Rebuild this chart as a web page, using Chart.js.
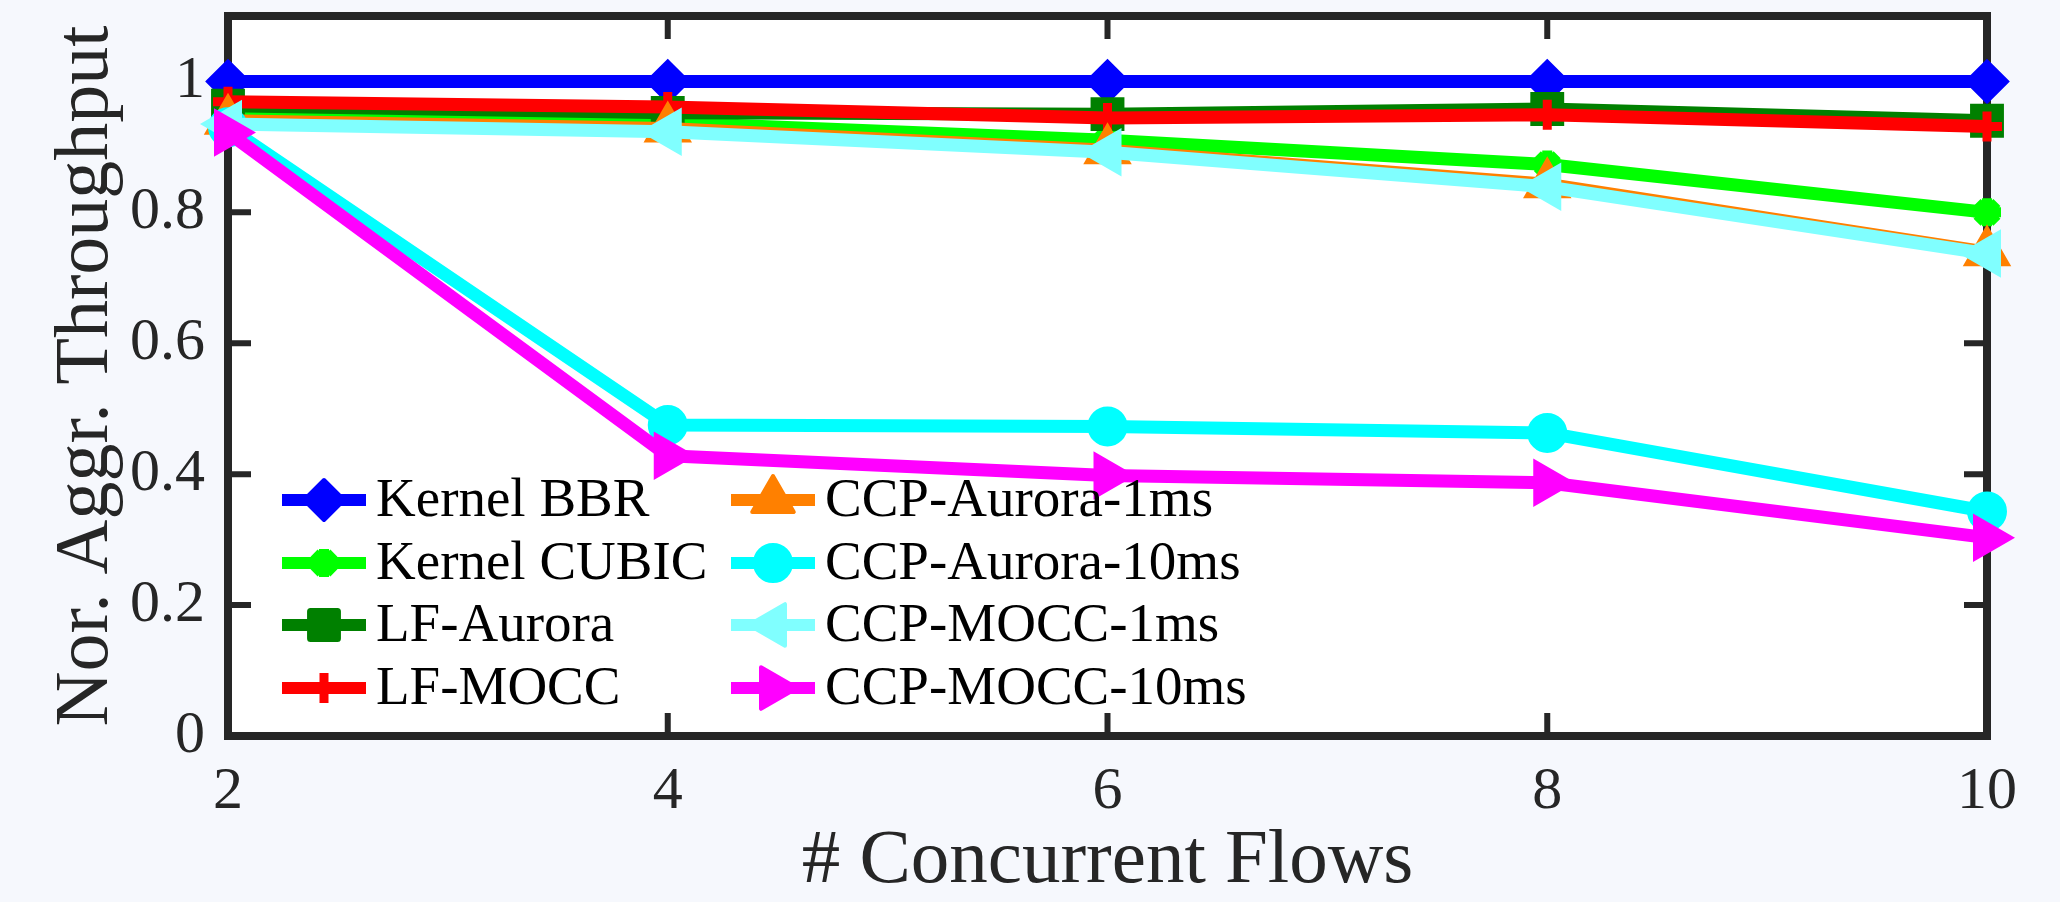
<!DOCTYPE html>
<html>
<head>
<meta charset="utf-8">
<script src="https://cdn.jsdelivr.net/npm/chart.js@4.4.1/dist/chart.umd.min.js"></script>
<style>
  body { margin: 0; background: #f6f8fd; }
  canvas { display: block; }
</style>
</head>
<body>
<canvas id="flowChart" width="2060" height="902"></canvas>
<script>
// x: number of concurrent flows
const flows = [2, 4, 6, 8, 10];

// normalized aggregate throughput
const kernelBBR    = [1.000, 1.000, 1.000, 1.000, 1.000];
const kernelCUBIC  = [0.952, 0.937, 0.910, 0.873, 0.800];
const lfAurora     = [0.963, 0.952, 0.950, 0.958, 0.940];
const lfMOCC       = [0.969, 0.961, 0.944, 0.949, 0.931];
const ccpAurora1   = [0.940, 0.928, 0.895, 0.843, 0.739];
const ccpAurora10  = [0.930, 0.475, 0.473, 0.463, 0.343];
const ccpMOCC1     = [0.935, 0.923, 0.892, 0.839, 0.737];
const ccpMOCC10    = [0.922, 0.428, 0.398, 0.387, 0.303];

const seriesNames = ['Kernel BBR', 'Kernel CUBIC', 'LF-Aurora', 'LF-MOCC',
    'CCP-Aurora-1ms', 'CCP-Aurora-10ms', 'CCP-MOCC-1ms', 'CCP-MOCC-10ms'];
const seriesData = [kernelBBR, kernelCUBIC, lfAurora, lfMOCC,
    ccpAurora1, ccpAurora10, ccpMOCC1, ccpMOCC10];
const seriesColors = ['#0000ff', '#00ff00', '#008000', '#ff0000',
    '#ff8000', '#00ffff', '#80ffff', '#ff00ff'];
// marker style per series (matlab: d, h, s, +, ^, o, <, >)
const markers = [
    { style: 'rectRot', rot: 0, r: 20, bw: 4 },
    { style: 'star', rot: 0, r: 14, bw: 10 },
    { style: 'rect', rot: 0, r: 19, bw: 7 },
    { style: 'cross', rot: 0, r: 15, bw: 9 },
    { style: 'triangle', rot: 0, r: 24, bw: 4 },
    { style: 'circle', rot: 0, r: 18, bw: 4 },
    { style: 'triangle', rot: -90, r: 24, bw: 4 },
    { style: 'triangle', rot: 90, r: 24, bw: 4 }
];

const AXIS_COLOR = '#262626';
const FONT = "'Liberation Serif', 'Times New Roman', serif";

function markPoint(ctx, m, color, x, y) {
    ctx.save();
    ctx.fillStyle = color;
    ctx.strokeStyle = color;
    ctx.lineWidth = m.bw;
    ctx.lineJoin = 'round';
    Chart.helpers.drawPoint(ctx, { pointStyle: m.style, rotation: m.rot, radius: m.r, borderWidth: m.bw }, x, y);
    ctx.restore();
}

// background, axes box and inward ticks (box on)
const boxPlugin = {
    id: 'box',
    beforeDraw(chart) {
        const { ctx, chartArea: a } = chart;
        ctx.save();
        ctx.fillStyle = '#f6f8fd';
        ctx.fillRect(0, 0, chart.width, chart.height);
        ctx.fillStyle = '#ffffff';
        ctx.fillRect(a.left, a.top, a.right - a.left, a.bottom - a.top);
        ctx.restore();
    },
    beforeDatasetsDraw(chart) {
        const { ctx, chartArea: a, scales } = chart;
        const len = 23;
        ctx.save();
        ctx.strokeStyle = AXIS_COLOR;
        ctx.lineWidth = 6;
        ctx.beginPath();
        scales.x.ticks.forEach(t => {
            const px = scales.x.getPixelForValue(t.value);
            ctx.moveTo(px, a.bottom); ctx.lineTo(px, a.bottom - len);
            ctx.moveTo(px, a.top); ctx.lineTo(px, a.top + len);
        });
        scales.y.ticks.forEach(t => {
            const py = scales.y.getPixelForValue(t.value);
            ctx.moveTo(a.left, py); ctx.lineTo(a.left + len, py);
            ctx.moveTo(a.right, py); ctx.lineTo(a.right - len, py);
        });
        ctx.stroke();
        ctx.lineWidth = 8;
        ctx.strokeRect(a.left, a.top, a.right - a.left, a.bottom - a.top);
        ctx.restore();
    },
    afterDraw(chart) {
        // two column legend inside the axes, lower left
        const ctx = chart.ctx;
        const colX = [324, 773];
        const rowY = [500, 563, 625, 688];
        ctx.save();
        ctx.font = '55px ' + FONT;
        ctx.fillStyle = '#000000';
        ctx.textBaseline = 'alphabetic';
        seriesNames.forEach((name, i) => {
            const cx = colX[Math.floor(i / 4)];
            const cy = rowY[i % 4];
            ctx.strokeStyle = seriesColors[i];
            ctx.lineWidth = 12;
            ctx.beginPath();
            ctx.moveTo(cx - 42, cy);
            ctx.lineTo(cx + 42, cy);
            ctx.stroke();
            markPoint(ctx, markers[i], seriesColors[i], cx, cy);
            ctx.fillText(name, cx + 52, cy + 16);
        });
        ctx.restore();
    }
};

window.onload = function () {
    const ctx = document.getElementById('flowChart').getContext('2d');
    Chart.defaults.font.family = FONT;
    Chart.defaults.color = AXIS_COLOR;

    const datasets = seriesNames.map((name, i) => ({
        label: name,
        data: flows.map((f, j) => ({ x: f, y: seriesData[i][j] })),
        borderColor: seriesColors[i],
        backgroundColor: seriesColors[i],
        borderWidth: 13,
        borderJoinStyle: 'round',
        borderCapStyle: 'round',
        pointStyle: markers[i].style,
        pointRotation: markers[i].rot,
        pointRadius: markers[i].r,
        pointBorderWidth: markers[i].bw,
        pointBackgroundColor: seriesColors[i],
        pointBorderColor: seriesColors[i],
        tension: 0,
        clip: false,
        order: seriesNames.length - i // later series drawn on top
    }));

    new Chart(ctx, {
        type: 'line',
        data: { datasets: datasets },
        options: {
            responsive: false,
            animation: false,
            layout: {
                autoPadding: false, // markers may overhang the box, like matlab
                padding: { top: 16, right: 73, left: 0, bottom: 0 }
            },
            plugins: { legend: { display: false }, tooltip: { enabled: false } },
            scales: {
                x: {
                    type: 'linear',
                    min: 2,
                    max: 10,
                    grid: { display: false, drawTicks: false },
                    border: { display: false },
                    ticks: { stepSize: 2, padding: 20, font: { size: 60 } },
                    title: { display: true, text: '# Concurrent Flows', font: { size: 77 }, padding: { top: 0, bottom: -6 } },
                    afterFit: s => { s.height = 166; s.paddingLeft = 0; s.paddingRight = 0; }
                },
                y: {
                    min: 0,
                    max: 1.1,
                    grid: { display: false, drawTicks: false },
                    border: { display: false },
                    ticks: {
                        stepSize: 0.2,
                        includeBounds: false,
                        padding: 23,
                        font: { size: 60 },
                        callback: v => String(+v.toFixed(2))
                    },
                    title: { display: true, text: 'Nor. Aggr. Throughput', font: { size: 76 }, padding: { top: 41, bottom: 0 } },
                    afterFit: s => { s.width = 228; s.paddingTop = 0; s.paddingBottom = 0; }
                }
            }
        },
        plugins: [boxPlugin]
    });
};
</script>
</body>
</html>
